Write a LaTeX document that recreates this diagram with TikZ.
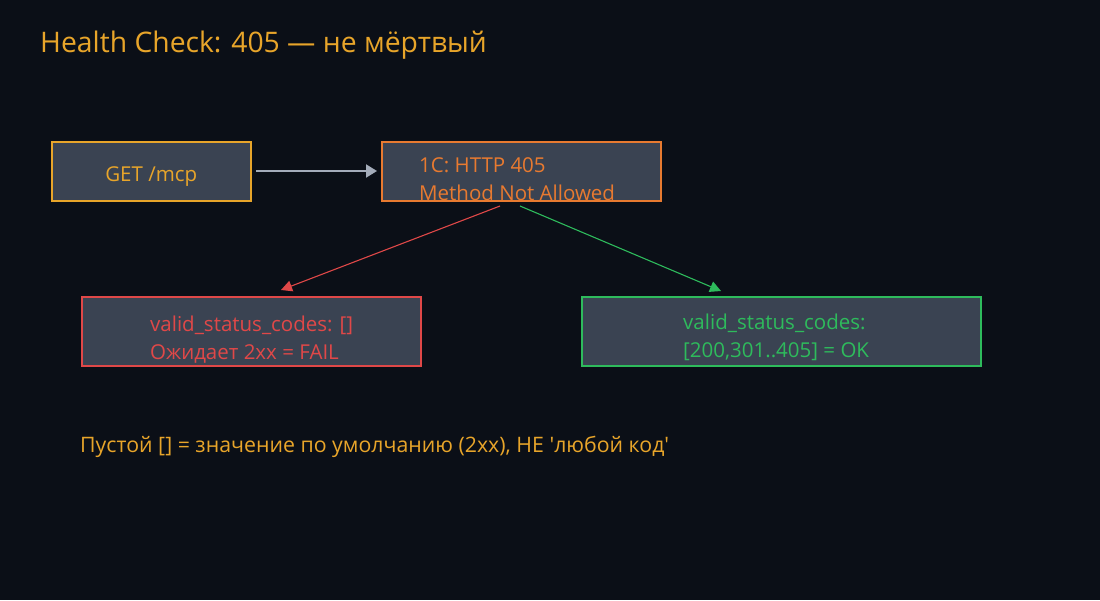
\documentclass[tikz,border=0pt]{standalone}
\usepackage{fontspec}
\setmainfont{Open Sans}
\usetikzlibrary{arrows.meta}
\definecolor{bg}{HTML}{0B0F17}
\definecolor{boxfill}{HTML}{3A4352}
\definecolor{amber}{HTML}{E8A52A}
\definecolor{orng}{HTML}{E87A30}
\definecolor{redc}{HTML}{E04848}
\definecolor{greenc}{HTML}{2EBB5C}
\definecolor{grayc}{HTML}{A4ACBA}
\tikzset{
  box/.style={draw, line width=1.5pt, fill=boxfill, inner sep=0pt, anchor=north west},
  boxtext/.style={font=\fontsize{20.5}{28}\selectfont, align=left, inner sep=0pt},
  conn/.style={line width=1.1pt, -{Triangle[length=11pt,width=11pt]}},
}
\begin{document}
\begin{tikzpicture}[x=1pt,y=-1pt]
\fill[bg] (0,0) rectangle (1100,600);
\useasboundingbox (0,0) rectangle (1100,600);
\node[anchor=west, text=amber, font=\fontsize{28.3}{32}\selectfont, inner sep=0pt] (title) at (40,45) {Health Check: 405 — не мёртвый};

\node[box, draw=amber, minimum width=199pt, minimum height=59pt] (get) at (51,141) {};
\node[boxtext, text=amber] (gett) at (get.center) [yshift=-5pt] {GET /mcp};

\node[box, draw=orng, minimum width=279pt, minimum height=59pt] (http) at (381,141) {};
\node[boxtext, text=orng, anchor=north west] (httpt) at (419,157) {1C: HTTP 405\\Method Not Allowed};

\node[box, draw=redc, minimum width=339pt, minimum height=69pt] (fail) at (81,296) {};
\node[boxtext, text=redc, anchor=north west] (failt) at (150,316) {valid\_status\_codes: []\\Ожидает 2xx = FAIL};

\node[box, draw=greenc, minimum width=399pt, minimum height=69pt] (ok) at (581,296) {};
\node[boxtext, text=greenc, anchor=north west] (okt) at (683,314) {valid\_status\_codes:\\{}[200,301..405] = OK};

\coordinate (a1) at (256,171);
\coordinate (a2) at (377,171);
\draw[grayc, line width=2pt, -{Triangle[length=11pt,width=13pt]}] (a1) -- (a2);
\coordinate (r1) at (500,206);
\coordinate (r2) at (281,290);
\draw[conn, redc] (r1) -- (r2);
\coordinate (g1) at (520,206);
\coordinate (g2) at (721,291);
\draw[conn, greenc] (g1) -- (g2);

\node[anchor=west, text=amber, font=\fontsize{21.3}{26}\selectfont, inner sep=0pt] (note) at (80,447) {Пустой [] = значение по умолчанию (2xx), НЕ \textquotesingle любой код\textquotesingle};
\end{tikzpicture}
\end{document}
